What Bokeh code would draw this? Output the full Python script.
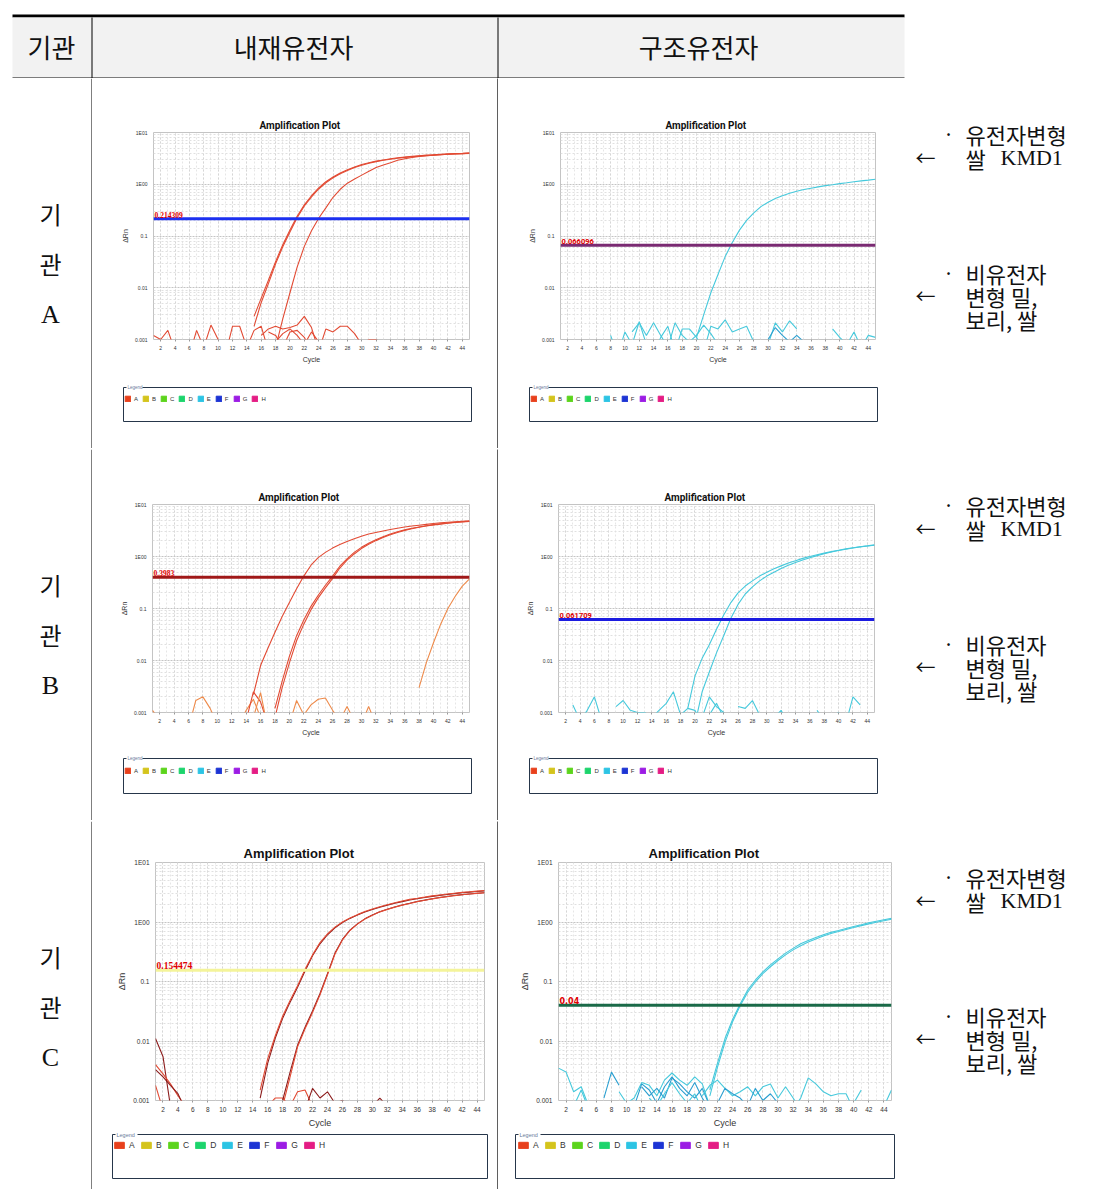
import math
from bokeh.plotting import figure
from bokeh.layouts import row, column
from bokeh.models import (Range1d, Span, Label, Legend, LegendItem, FixedTicker,
                          CustomJSTickFormatter)
from bokeh.core.properties import value
from bokeh.embed import file_html
from bokeh.resources import INLINE

# ------------------------------------------------------------------ data
CYCLE_FIRST, CYCLE_LAST = 1, 45
X_TICKS = list(range(2, 45, 2))
Y_TICKS = [0.001, 0.01, 0.1, 1.0, 10.0]
Y_TICK_LABELS = ["0.001", "0.01", "0.1", "1E00", "1E01"]

WELLS = ["A", "B", "C", "D", "E", "F", "G", "H"]
WELL_COLORS = ["#e8401c", "#d4c41c", "#5cd41c", "#1cd46c", "#2cc4e4", "#1c34d4", "#9c1ce4", "#e41c84"]

HEADER_TEXT = ["기관", "내재유전자", "구조유전자"]
ROW_LABEL = ["기", "관"]
INSTITUTES = ["A", "B", "C"]
NOTE_GM = ["유전자변형", "쌀", "KMD1"]
NOTE_NON_GM = ["비유전자", "변형 밀,", "보리, 쌀"]
PLOT_TITLE = "Amplification Plot"
X_LABEL = "Cycle"
Y_LABEL = "ΔRn"

# thresholds (value, label)
A1_THRESHOLD, A1_THRESHOLD_LABEL = 0.214309, "0.214309"
A2_THRESHOLD, A2_THRESHOLD_LABEL = 0.066096, "0.066096"
B1_THRESHOLD, B1_THRESHOLD_LABEL = 0.3983, "0.3983"
B2_THRESHOLD, B2_THRESHOLD_LABEL = 0.061709, "0.061709"
C1_THRESHOLD, C1_THRESHOLD_LABEL = 0.154474, "0.154474"
C2_THRESHOLD, C2_THRESHOLD_LABEL = 0.04, "0.04"

# --- institute A, endogenous gene
A1_AMP1_START = 15
A1_AMP1 = [0.0028, 0.0063, 0.014, 0.032, 0.068, 0.13, 0.24, 0.40, 0.60, 0.85, 1.12, 1.38, 1.65, 1.9, 2.15, 2.4,
           2.6, 2.8, 2.95, 3.1, 3.25, 3.35, 3.45, 3.55, 3.65, 3.72, 3.8, 3.87, 3.93, 3.98, 4.05]
A1_AMP2_START = 15
A1_AMP2 = [0.0018, 0.0052, 0.012, 0.029, 0.062, 0.12, 0.225, 0.38, 0.57, 0.81, 1.07, 1.33, 1.6, 1.85, 2.1, 2.33,
           2.55, 2.74, 2.9, 3.05, 3.18, 3.3, 3.4, 3.5, 3.58, 3.66, 3.73, 3.8, 3.86, 3.91, 3.96]
A1_AMP3_START = 18
A1_AMP3 = [0.0007, 0.0025, 0.008, 0.025, 0.063, 0.126, 0.22, 0.35, 0.56, 0.8, 1.05, 1.26, 1.5, 1.78, 2.1, 2.35,
           2.6, 2.9, 3.1, 3.3, 3.45, 3.55, 3.65, 3.72, 3.8, 3.85, 3.9, 3.93]
A1_NOISE1_START = 1
A1_NOISE1 = [0.0012, 0.001, 0.0015, 0.0006, 0.0005, 0.0005, 0.0015, 0.0007, 0.0019, 0.001, 0.0005, 0.0018,
             0.0018, 0.0007, 0.0015, 0.0018, 0.0006]
A1_NOISE2_START = 16
A1_NOISE2 = [0.0012, 0.0016, 0.0018, 0.0016, 0.0017, 0.0019, 0.0028, 0.0017, 0.0006]
A1_NOISE3_START = 17
A1_NOISE3 = [0.0014, 0.0012, 0.0007, 0.0014, 0.0015, 0.0011, 0.0006]
A1_NOISE4_START = 24
A1_NOISE4 = [0.0006, 0.0016, 0.0014, 0.0018, 0.0018, 0.0013, 0.0008, 0.001, 0.001, 0.0008]
A1_NOISE5_START = 18
A1_NOISE5 = [0.0009, 0.0013, 0.0016, 0.0012, 0.0008, 0.0014, 0.0009, 0.0005]

# --- institute A, construct gene
A2_AMP1_START = 20
A2_AMP1 = [0.0011, 0.003, 0.008, 0.018, 0.04, 0.075, 0.13, 0.2, 0.28, 0.37, 0.45, 0.53, 0.6, 0.67, 0.73, 0.79,
           0.84, 0.89, 0.94, 0.98, 1.03, 1.07, 1.12, 1.16, 1.2, 1.25]
A2_NOISE1_START = 8
A2_NOISE1 = [0.0012, 0.0005, 0.0014, 0.0008, 0.0022, 0.0008, 0.0005, 0.0011, 0.0018, 0.0006, 0.0016, 0.0016,
             0.0011, 0.0006, 0.0018, 0.0016, 0.0024, 0.0014, 0.0016, 0.0018, 0.0009, 0.0005]
A2_NOISE2_START = 11
A2_NOISE2 = [0.0014, 0.0021, 0.0012, 0.0021, 0.0012, 0.0007, 0.0021, 0.0012, 0.0009, 0.0012, 0.0019, 0.0013, 0.0008]
A2_NOISE3_START = 30
A2_NOISE3 = [0.0008, 0.0021, 0.0014, 0.0023, 0.0016, None, None, None, None, 0.0016, 0.0011, 0.0008, 0.0014,
             0.0007, 0.0012, 0.0011]
A2_NOISE4_START = 30
A2_NOISE4 = [0.001, 0.0017, 0.0012, 0.0009, 0.0012, 0.0009]

# --- institute B, endogenous gene
B1_AMP1_START = 15
B1_AMP1 = [0.0022, 0.008, 0.017, 0.035, 0.07, 0.13, 0.24, 0.42, 0.68, 0.95, 1.2, 1.45, 1.7, 1.95, 2.2, 2.45,
           2.7, 2.9, 3.1, 3.3, 3.5, 3.7, 3.85, 4.0, 4.15, 4.3, 4.45, 4.55, 4.65, 4.75, 4.85]
B1_AMP2_START = 18
B1_AMP2 = [0.0012, 0.004, 0.012, 0.03, 0.06, 0.11, 0.18, 0.28, 0.42, 0.65, 0.9, 1.2, 1.5, 1.8, 2.1, 2.4, 2.7,
           3.0, 3.25, 3.5, 3.7, 3.9, 4.1, 4.25, 4.4, 4.55, 4.65, 4.75]
B1_AMP3_START = 18
B1_AMP3 = [0.0008, 0.003, 0.009, 0.024, 0.05, 0.095, 0.16, 0.25, 0.38, 0.6, 0.85, 1.12, 1.42, 1.72, 2.02, 2.32,
           2.62, 2.9, 3.18, 3.42, 3.65, 3.85, 4.05, 4.2, 4.35, 4.5, 4.6, 4.7]
B1_AMP4_START = 38
B1_AMP4 = [0.003, 0.009, 0.022, 0.05, 0.1, 0.17, 0.27, 0.37]
B1_NOISE1_START = 1
B1_NOISE1 = [0.0011, 0.0007, 0.0005, 0.0005, 0.0005, 0.0005, 0.0017, 0.002, 0.0012, 0.0006]
B1_NOISE2_START = 13
B1_NOISE2 = [0.0006, 0.0011, 0.0018, 0.0008, 0.0005]
B1_NOISE3_START = 14
B1_NOISE3 = [0.0007, 0.0025, 0.0016, 0.0006]
B1_NOISE4_START = 15
B1_NOISE4 = [0.0008, 0.0024, 0.0005]
B1_NOISE5_START = 20
B1_NOISE5 = [0.0006, 0.0017, 0.0009, 0.0014, 0.0018, 0.0019, 0.0011, 0.0007, 0.0013, 0.0007, 0.0006, 0.0013, 0.0006]

# --- institute B, construct gene
B2_AMP1_START = 19
B2_AMP1 = [0.0012, 0.005, 0.011, 0.02, 0.04, 0.075, 0.13, 0.2, 0.27, 0.34, 0.42, 0.5, 0.58, 0.66, 0.75, 0.83,
           0.92, 1.0, 1.08, 1.16, 1.24, 1.32, 1.4, 1.47, 1.54, 1.6, 1.67]
B2_AMP2_START = 20
B2_AMP2 = [0.0006, 0.0025, 0.006, 0.014, 0.03, 0.065, 0.12, 0.19, 0.26, 0.34, 0.42, 0.5, 0.59, 0.68, 0.77, 0.86,
           0.95, 1.04, 1.13, 1.22, 1.3, 1.38, 1.46, 1.53, 1.59, 1.65]
B2_NOISE1_START = 3
B2_NOISE1 = [0.0014, 0.0007, 0.0011, 0.002, 0.0007]
B2_NOISE2_START = 9
B2_NOISE2 = [0.0013, 0.0017, 0.0011, 0.001, 0.001, 0.0008, 0.0011, 0.0015, 0.0025, 0.0009, 0.0012, 0.0011, 0.0006]
B2_NOISE3_START = 21
B2_NOISE3 = [0.0008, 0.002, 0.0013, 0.001, 0.0006]
B2_NOISE4_START = 22
B2_NOISE4 = [0.0009, 0.0015, 0.0008]
B2_NOISE5_START = 26
B2_NOISE5 = [0.0013, 0.0012, 0.0017, 0.0009, 0.0006, 0.0008, 0.0011, 0.0006]
B2_NOISE6_START = 37
B2_NOISE6 = [0.0011, 0.0007, 0.0008, 0.001, 0.0006, 0.002, 0.0014]

# --- institute C, endogenous gene
C1_AMP1_START = 15
C1_AMP1 = [0.0015, 0.005, 0.012, 0.026, 0.048, 0.085, 0.16, 0.28, 0.45, 0.63, 0.82, 1.0, 1.17, 1.33, 1.5, 1.65,
           1.8, 1.95, 2.1, 2.25, 2.4, 2.5, 2.62, 2.75, 2.85, 2.95, 3.05, 3.15, 3.22, 3.3, 3.38]
C1_AMP2_START = 15
C1_AMP2 = [0.0011, 0.0042, 0.011, 0.024, 0.045, 0.08, 0.15, 0.27, 0.43, 0.61, 0.8, 0.98, 1.15, 1.31, 1.47, 1.62,
           1.77, 1.92, 2.06, 2.2, 2.34, 2.46, 2.58, 2.7, 2.8, 2.9, 3.0, 3.1, 3.18, 3.26, 3.33]
C1_AMP3_START = 18
C1_AMP3 = [0.0008, 0.0025, 0.008, 0.016, 0.03, 0.06, 0.13, 0.29, 0.5, 0.72, 0.92, 1.12, 1.3, 1.48, 1.63, 1.78,
           1.92, 2.05, 2.2, 2.32, 2.45, 2.57, 2.67, 2.78, 2.87, 2.95, 3.03, 3.1]
C1_AMP4_START = 18
C1_AMP4 = [0.001, 0.003, 0.0085, 0.017, 0.032, 0.063, 0.135, 0.3, 0.51, 0.73, 0.93, 1.13, 1.31, 1.49, 1.64, 1.79,
           1.93, 2.06, 2.21, 2.33, 2.46, 2.58, 2.68, 2.79, 2.88, 2.96, 3.04, 3.11]
C1_NOISE1_START = 1
C1_NOISE1 = [0.011, 0.0055, 0.0008]
C1_NOISE2_START = 1
C1_NOISE2 = [0.004, 0.0028, 0.0019, 0.0012, 0.0008]
C1_NOISE3_START = 1
C1_NOISE3 = [0.0033, 0.0025, 0.0018, 0.0013, 0.0007]
C1_NOISE4_START = 1
C1_NOISE4 = [0.0018, 0.0007]
C1_NOISE5_START = 16
C1_NOISE5 = [0.0008, 0.0011, 0.0011, 0.0008, 0.0014, 0.0015, 0.0008]
C1_NOISE6_START = 21
C1_NOISE6 = [0.0007, 0.0016, 0.0011, 0.0014, 0.0009, 0.001, 0.0008]
C1_NOISE7_START = 30
C1_NOISE7 = [0.0008, 0.0011, 0.0008]

# --- institute C, construct gene
C2_AMP1_START = 21
C2_AMP1 = [0.0015, 0.0042, 0.011, 0.023, 0.042, 0.072, 0.105, 0.145, 0.19, 0.24, 0.3, 0.36, 0.43, 0.49, 0.55,
           0.61, 0.67, 0.72, 0.78, 0.84, 0.9, 0.97, 1.03, 1.09, 1.15]
C2_AMP2_START = 21
C2_AMP2 = [0.0012, 0.0036, 0.0095, 0.021, 0.039, 0.066, 0.098, 0.136, 0.177, 0.225, 0.28, 0.34, 0.4, 0.46, 0.52,
           0.58, 0.64, 0.69, 0.75, 0.81, 0.87, 0.93, 0.99, 1.05, 1.11]
C2_NOISE1_START = 1
C2_NOISE1 = [0.0035, 0.003, 0.0014, 0.0017, 0.0008]
C2_NOISE2_START = 3
C2_NOISE2 = [0.0008, 0.0015, 0.0007]
C2_NOISE3_START = 7
C2_NOISE3 = [0.0011, 0.003, 0.0018]
C2_NOISE4_START = 9
C2_NOISE4 = [0.0014, 0.0009, 0.0011, 0.002, 0.0018, 0.0012, 0.0022, 0.0029, 0.0022, 0.0018, 0.0025, 0.0019, 0.0008]
C2_NOISE5_START = 11
C2_NOISE5 = [0.0008, 0.0019, 0.0015, 0.0009, 0.0017, 0.0025, 0.0016, 0.0012, 0.002, 0.0011, 0.0007]
C2_NOISE6_START = 12
C2_NOISE6 = [0.0017, 0.0012, 0.0016, 0.0011, 0.0024, 0.0019, 0.0014, 0.0011, 0.0016, 0.0008]
C2_NOISE7_START = 13
C2_NOISE7 = [0.0011, 0.0008, 0.0013, 0.002, 0.0013, 0.0009, 0.0013, 0.0007]
C2_NOISE8_START = 20
C2_NOISE8 = [0.0012, 0.0018, 0.0022, 0.0016, 0.0012, 0.0014, 0.0017, 0.0012, 0.0017, 0.0019, 0.0011, 0.0017,
             0.0011, 0.0007]
C2_NOISE9_START = 22
C2_NOISE9 = [0.0009, 0.0016, 0.0013, 0.0011, 0.0008, 0.0016, 0.001, 0.0013, 0.0009]
C2_NOISE10_START = 32
C2_NOISE10 = [0.0007, 0.0011, 0.0024, 0.0019, 0.0014, 0.0012, 0.0013, 0.0013, 0.0007]
C2_NOISE11_START = 40
C2_NOISE11 = [0.0009, 0.0015]
C2_NOISE12_START = 44
C2_NOISE12 = [0.0008, 0.0015]

# ------------------------------------------------------------------ styles
RED = "#e24a33"
DARK_RED = "#8c1c1c"
ORANGE = "#ee8a4a"
CYAN = "#46c9dc"
DEEP_CYAN = "#2a9fd0"
KR = value("Noto Sans CJK KR")
SERIF = value("Liberation Serif")


def canvas(w, h, bg="white"):
    p = figure(width=w, height=h, x_range=Range1d(0, w), y_range=Range1d(h, 0),
               output_backend="svg", toolbar_location=None, min_border=0,
               x_axis_location=None, y_axis_location=None, frame_align=False,
               background_fill_color=bg, border_fill_color=bg, outline_line_color=None)
    p.grid.visible = False
    return p


def series_xy(start, vals):
    xs = list(range(start, start + len(vals)))
    ys = [math.nan if v is None else v for v in vals]
    return xs, ys


def amp_plot(w, h, left, right, top, bottom, big, curves, thr, thr_color, thr_text, thr_font,
             thr_size, title_offset):
    p = figure(width=w, height=h, title=PLOT_TITLE,
               x_range=Range1d(CYCLE_FIRST, CYCLE_LAST), y_range=Range1d(Y_TICKS[0], Y_TICKS[-1]),
               y_axis_type="log", output_backend="svg", toolbar_location=None, frame_align=False,
               min_border_left=left, min_border_right=right, min_border_top=top,
               min_border_bottom=bottom, background_fill_color="white",
               border_fill_color="white", outline_line_color="#c4c4c4")
    p.title.text_font = "Liberation Sans" if big else "Roboto"
    p.title.text_font_size = "13px" if big else "10px"
    p.title.text_font_style = "bold"
    p.title.text_color = "#111111"
    p.title.align = "left"
    p.title.offset = title_offset
    p.title.standoff = 3

    minor_y = [k * 10.0 ** e for e in range(-3, 1) for k in range(2, 10)]
    p.xaxis.ticker = FixedTicker(ticks=X_TICKS, minor_ticks=list(range(CYCLE_FIRST, CYCLE_LAST + 1)))
    p.yaxis.ticker = FixedTicker(ticks=Y_TICKS, minor_ticks=minor_y)
    p.yaxis.formatter = CustomJSTickFormatter(
        args=dict(yt=Y_TICKS, yl=Y_TICK_LABELS),
        code="for (let i = 0; i < yt.length; i++) {"
             " if (Math.abs(Math.log10(yt[i]) - Math.log10(tick)) < 1e-6) return yl[i]; }"
             " return '';")
    p.xaxis.axis_label = X_LABEL
    p.yaxis.axis_label = Y_LABEL
    for ax in p.axis:
        ax.axis_line_color = None
        ax.minor_tick_line_color = None
        ax.major_tick_in = 0
        ax.major_tick_line_color = "#999999"
        ax.major_label_text_font = "Liberation Sans"
        ax.major_label_text_font_size = "6.5px" if big else "5px"
        ax.major_label_text_color = "#333333"
        ax.major_label_standoff = 2
        ax.axis_label_text_font = "Liberation Sans"
        ax.axis_label_text_font_size = "9px" if big else "7px"
        ax.axis_label_text_font_style = "normal"
        ax.axis_label_text_color = "#333333"
        ax.axis_label_standoff = 3
    p.xaxis.major_tick_out = 2
    p.yaxis.major_tick_out = 0

    p.xgrid.grid_line_color = "#d6d6d6"
    p.xgrid.grid_line_dash = "2 2"
    p.xgrid.minor_grid_line_color = "#e6e6e6"
    p.xgrid.minor_grid_line_dash = "2 2"
    p.ygrid.grid_line_color = "#c4c4c4"
    p.ygrid.grid_line_dash = "2 1"
    p.ygrid.minor_grid_line_color = "#e0e0e0"
    p.ygrid.minor_grid_line_dash = "2 2"

    for start, vals, color in curves:
        xs, ys = series_xy(start, vals)
        p.line(xs, ys, line_color=color, line_width=1.1)

    p.add_layout(Span(location=thr, dimension="width", line_color=thr_color, line_width=3))
    p.add_layout(Label(x=CYCLE_FIRST, y=thr, text=thr_text, text_font=thr_font,
                       text_font_size=thr_size, text_font_style="bold", text_color="#e00000",
                       y_offset=1, x_offset=1, text_baseline="bottom"))
    return p


def legend_panel(w, h, box, swatch, big):
    p = canvas(w, h)
    l, r, t, b = box
    p.quad(left=[l], right=[r], top=[t], bottom=[b], fill_color="white",
           line_color="#26364a", line_width=1)
    tag_w = 22 if big else 16
    p.quad(left=[l + 3], right=[l + 3 + tag_w], top=[t - 2], bottom=[t + 2],
           fill_color="white", line_color=None)
    p.text(x=[l + 4], y=[t], text=["Legend"], text_font=value("Liberation Sans"),
           text_font_size="5.5px" if big else "4.5px", text_color="#6a7a9a", text_baseline="middle")
    gw, gh = (12, 8) if big else (7, 7)
    # legend-key renderers, kept off the visible canvas
    rends = [p.quad(left=[-40], right=[-30], top=[-40], bottom=[-30], fill_color=c, line_color=c)
             for c in WELL_COLORS]
    items = [LegendItem(label=lab, renderers=[rr]) for lab, rr in zip(WELLS, rends)]
    sx, sy = swatch
    leg = Legend(items=items, orientation="horizontal", location=(sx, h - sy - gh), margin=0,
                 padding=0, spacing=5 if big else 4, glyph_width=gw, glyph_height=gh,
                 label_width=6 if big else 4, label_height=gh, label_standoff=4 if big else 3,
                 label_text_font="Liberation Sans", label_text_font_size="8.5px" if big else "6px",
                 label_text_color="#333333", border_line_color=None, background_fill_alpha=0)
    p.add_layout(leg)
    return p


def vline(h):
    p = canvas(1, h, bg="black")
    p.quad(left=[0], right=[1], top=[0], bottom=[h], fill_color="black", line_color=None)
    return p


TOTAL_W = 1092


def hline(h=1):
    p = canvas(TOTAL_W, h)
    p.quad(left=[12], right=[904], top=[0], bottom=[h], fill_color="black", line_color=None)
    return p


def label_fig(h, letter):
    p = canvas(92, h)
    p.quad(left=[91], right=[92], top=[0], bottom=[h], fill_color="black", line_color=None)
    p.text(x=[50, 50], y=[135, 185], text=ROW_LABEL, text_font=KR, text_font_size="24px",
           text_align="center", text_baseline="middle", text_color="#111111")
    p.text(x=[50], y=[236], text=[letter], text_font=SERIF, text_font_size="26px",
           text_align="center", text_baseline="middle", text_color="#111111")
    return p


def note_fig(h):
    p = canvas(188, h)
    p.text(x=[44, 44], y=[55, 194], text=["·", "·"], text_font=KR, text_font_size="20px",
           text_align="center", text_baseline="middle", text_color="#111111")
    p.text(x=[11, 11], y=[79, 217], text=["←", "←"], text_font=KR, text_font_size="20px",
           text_align="left", text_baseline="middle", text_color="#111111")
    p.text(x=[61, 61], y=[55, 79], text=NOTE_GM[:2], text_font=KR, text_font_size="22px",
           text_align="left", text_baseline="middle", text_color="#111111")
    p.text(x=[96], y=[79], text=[NOTE_GM[2]], text_font=SERIF, text_font_size="22px",
           text_align="left", text_baseline="middle", text_color="#111111")
    p.text(x=[61, 61, 61], y=[194, 217, 240], text=NOTE_NON_GM, text_font=KR,
           text_font_size="22px", text_align="left", text_baseline="middle", text_color="#111111")
    return p


# ------------------------------------------------------------------ header
header = canvas(TOTAL_W, 78)
header.quad(left=[12], right=[904], top=[14], bottom=[17], fill_color="black", line_color=None)
header.quad(left=[12], right=[904], top=[17], bottom=[77], fill_color="#f2f2f2", line_color=None)
header.quad(left=[12], right=[904], top=[77], bottom=[78], fill_color="black", line_color=None)
header.quad(left=[91, 497], right=[92, 498], top=[17, 17], bottom=[78, 78], fill_color="black",
            line_color=None)
header.text(x=[51, 293, 698], y=[46, 46, 46], text=HEADER_TEXT, text_font=KR, text_font_size="26px",
            text_align="center", text_baseline="middle", text_color="#111111")

# ------------------------------------------------------------------ rows
A1_CURVES = [(A1_NOISE1_START, A1_NOISE1, RED), (A1_NOISE2_START, A1_NOISE2, RED),
             (A1_NOISE3_START, A1_NOISE3, RED), (A1_NOISE4_START, A1_NOISE4, RED),
             (A1_NOISE5_START, A1_NOISE5, RED),
             (A1_AMP1_START, A1_AMP1, RED), (A1_AMP2_START, A1_AMP2, RED), (A1_AMP3_START, A1_AMP3, RED)]
A2_CURVES = [(A2_NOISE1_START, A2_NOISE1, CYAN), (A2_NOISE2_START, A2_NOISE2, CYAN),
             (A2_NOISE3_START, A2_NOISE3, CYAN), (A2_NOISE4_START, A2_NOISE4, DEEP_CYAN),
             (A2_AMP1_START, A2_AMP1, CYAN)]
B1_CURVES = [(B1_NOISE1_START, B1_NOISE1, ORANGE), (B1_NOISE2_START, B1_NOISE2, ORANGE),
             (B1_NOISE3_START, B1_NOISE3, RED), (B1_NOISE4_START, B1_NOISE4, ORANGE),
             (B1_NOISE5_START, B1_NOISE5, ORANGE),
             (B1_AMP1_START, B1_AMP1, RED), (B1_AMP2_START, B1_AMP2, RED), (B1_AMP3_START, B1_AMP3, RED),
             (B1_AMP4_START, B1_AMP4, ORANGE)]
B2_CURVES = [(B2_NOISE1_START, B2_NOISE1, CYAN), (B2_NOISE2_START, B2_NOISE2, CYAN),
             (B2_NOISE3_START, B2_NOISE3, CYAN), (B2_NOISE4_START, B2_NOISE4, CYAN),
             (B2_NOISE5_START, B2_NOISE5, CYAN), (B2_NOISE6_START, B2_NOISE6, CYAN),
             (B2_AMP1_START, B2_AMP1, CYAN), (B2_AMP2_START, B2_AMP2, CYAN)]
C1_CURVES = [(C1_NOISE1_START, C1_NOISE1, DARK_RED), (C1_NOISE2_START, C1_NOISE2, RED),
             (C1_NOISE3_START, C1_NOISE3, DARK_RED), (C1_NOISE4_START, C1_NOISE4, RED),
             (C1_NOISE5_START, C1_NOISE5, RED), (C1_NOISE6_START, C1_NOISE6, DARK_RED),
             (C1_NOISE7_START, C1_NOISE7, DARK_RED),
             (C1_AMP2_START, C1_AMP2, DARK_RED), (C1_AMP4_START, C1_AMP4, DARK_RED),
             (C1_AMP1_START, C1_AMP1, RED), (C1_AMP3_START, C1_AMP3, RED)]
C2_CURVES = [(C2_NOISE1_START, C2_NOISE1, CYAN), (C2_NOISE2_START, C2_NOISE2, CYAN),
             (C2_NOISE3_START, C2_NOISE3, DEEP_CYAN), (C2_NOISE4_START, C2_NOISE4, CYAN),
             (C2_NOISE5_START, C2_NOISE5, DEEP_CYAN), (C2_NOISE6_START, C2_NOISE6, DEEP_CYAN),
             (C2_NOISE7_START, C2_NOISE7, CYAN), (C2_NOISE8_START, C2_NOISE8, CYAN),
             (C2_NOISE9_START, C2_NOISE9, DEEP_CYAN), (C2_NOISE10_START, C2_NOISE10, CYAN),
             (C2_NOISE11_START, C2_NOISE11, CYAN), (C2_NOISE12_START, C2_NOISE12, CYAN),
             (C2_AMP1_START, C2_AMP1, CYAN), (C2_AMP2_START, C2_AMP2, CYAN)]

# row A (height 370)
a1 = amp_plot(405, 289, 61, 28, 54, 28, False, A1_CURVES, A1_THRESHOLD, "#1c30f0",
              A1_THRESHOLD_LABEL, "Liberation Serif", "7.5px", 106)
a1_leg = legend_panel(405, 81, (31, 379, 20, 54), (32, 28), False)
a2 = amp_plot(406, 289, 62, 29, 54, 28, False, A2_CURVES, A2_THRESHOLD, "#7a2a72",
              A2_THRESHOLD_LABEL, "Roboto", "7.5px", 105)
a2_leg = legend_panel(406, 81, (31, 379, 20, 54), (32, 28), False)
row_a = row(label_fig(370, INSTITUTES[0]), column(a1, a1_leg), vline(370), column(a2, a2_leg),
            note_fig(370))

# row B (height 371)
b1 = amp_plot(405, 291, 60, 28, 55, 28, False, B1_CURVES, B1_THRESHOLD, "#a01818",
              B1_THRESHOLD_LABEL, "Liberation Serif", "7.5px", 106)
b1_leg = legend_panel(405, 80, (31, 379, 18, 53), (32, 27), False)
b2 = amp_plot(406, 291, 60, 30, 55, 28, False, B2_CURVES, B2_THRESHOLD, "#1c1ce0",
              B2_THRESHOLD_LABEL, "Roboto", "7.5px", 106)
b2_leg = legend_panel(406, 80, (31, 379, 18, 53), (32, 27), False)
row_b = row(label_fig(371, INSTITUTES[1]), column(b1, b1_leg), vline(371), column(b2, b2_leg),
            note_fig(371))

# row C (height 368)
c1 = amp_plot(405, 309, 63, 13, 41, 28, True, C1_CURVES, C1_THRESHOLD, "#f4f49a",
              C1_THRESHOLD_LABEL, "Liberation Serif", "9.5px", 88)
c1_leg = legend_panel(405, 59, (20, 395, 4, 48), (21, 12), True)
c2 = amp_plot(406, 309, 60, 13, 41, 28, True, C2_CURVES, C2_THRESHOLD, "#1a6a48",
              C2_THRESHOLD_LABEL, "DejaVu Sans", "8px", 90)
c2_leg = legend_panel(406, 59, (17, 396, 4, 48), (19, 12), True)
row_c = row(label_fig(368, INSTITUTES[2]), column(c1, c1_leg), vline(368), column(c2, c2_leg),
            note_fig(368))

bottom = canvas(TOTAL_W, 6)
bottom.quad(left=[12], right=[904], top=[1], bottom=[4], fill_color="black", line_color=None)

page = column(header, row_a, hline(1), row_b, hline(1), row_c, bottom)

open("out.html", "w").write(file_html(page, INLINE))
